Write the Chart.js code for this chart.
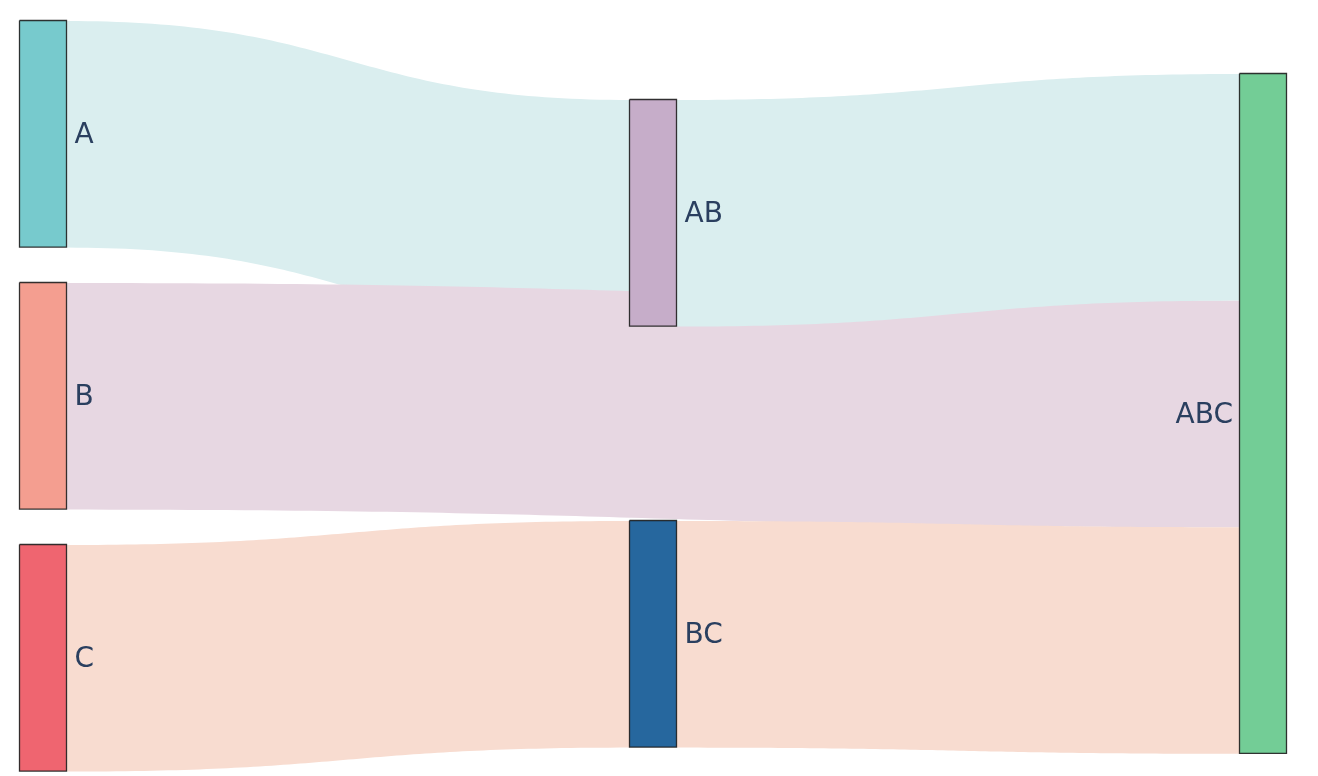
<!DOCTYPE html>
<html>
<head>
<meta charset="utf-8">
<script src="https://cdn.jsdelivr.net/npm/chart.js@4/dist/chart.umd.min.js"></script>
<style>
  html, body { margin: 0; padding: 0; background: #ffffff; }
  #wrap { width: 1318px; height: 776px; }
</style>
</head>
<body>
<div id="wrap"><canvas id="c" width="1318" height="776"></canvas></div>
<script>
// ---- data ----
const nodeLabels = ['A', 'B', 'C', 'AB', 'BC', 'ABC'];
const linkSource = [0, 1, 2, 3, 4];
const linkTarget = [3, 5, 4, 5, 5];
const linkValue  = [1, 1, 1, 1, 1];

// ---- styles ----
const nodeColors = ['#77cacd', '#f49e90', '#ef6570', '#c6adc9', '#26679e', '#73cd96'];
const linkColors = ['#daeeef', '#e7d7e2', '#f8dcd0', '#daeeef', '#f8dcd0'];
const nodeBorder = 'rgba(30,30,30,0.9)';
const labelColor = '#2a3f5f';

// ---- layout (pixel-like units on the hidden axes) ----
const columnX = [20, 630, 1240];
const nodeWidth = 47;
const unitSize = 226.6;
const nodeTop = [21, 283, 545, 100, 521, 74];

// depth of each node (longest path from a source)
const depth = nodeLabels.map(() => 0);
for (let k = 0; k < nodeLabels.length; k++) {
  linkSource.forEach((s, i) => { depth[linkTarget[i]] = Math.max(depth[linkTarget[i]], depth[s] + 1); });
}
const nodeValue = nodeLabels.map((_, n) => {
  let out = 0, inn = 0;
  linkSource.forEach((s, i) => { if (s === n) out += linkValue[i]; if (linkTarget[i] === n) inn += linkValue[i]; });
  return Math.max(out, inn);
});
const nodes = nodeLabels.map((lab, n) => ({
  x0: columnX[depth[n]], x1: columnX[depth[n]] + nodeWidth,
  y0: nodeTop[n], y1: nodeTop[n] + nodeValue[n] * unitSize
}));
const center = n => (nodes[n].y0 + nodes[n].y1) / 2;

// stack links on nodes
const linkGeo = linkSource.map(() => ({}));
nodeLabels.forEach((_, n) => {
  const outs = linkSource.map((s, i) => i).filter(i => linkSource[i] === n).sort((a, b) => center(linkTarget[a]) - center(linkTarget[b]));
  let y = nodes[n].y0;
  outs.forEach(i => { linkGeo[i].sy0 = y; y += linkValue[i] * unitSize; linkGeo[i].sy1 = y; });
  const ins = linkTarget.map((t, i) => i).filter(i => linkTarget[i] === n).sort((a, b) => center(linkSource[a]) - center(linkSource[b]));
  y = nodes[n].y0;
  ins.forEach(i => { linkGeo[i].ty0 = y; y += linkValue[i] * unitSize; linkGeo[i].ty1 = y; });
});

function bezier(xa, ya, xb, yb, steps) {
  const xm = (xa + xb) / 2, pts = [];
  for (let k = 0; k <= steps; k++) {
    const t = k / steps, u = 1 - t;
    const x = u*u*u*xa + 3*u*u*t*xm + 3*u*t*t*xm + t*t*t*xb;
    const y = u*u*u*ya + 3*u*u*t*ya + 3*u*t*t*yb + t*t*t*yb;
    pts.push({ x, y });
  }
  return pts;
}

const datasets = [];
linkSource.forEach((s, i) => {
  const t = linkTarget[i], g = linkGeo[i];
  const xa = nodes[s].x1, xb = nodes[t].x0;
  const top = bezier(xa, g.sy0, xb, g.ty0, 80);
  const bot = bezier(xa, g.sy1, xb, g.ty1, 80).reverse();
  datasets.push({
    data: top.concat(bot, [top[0]]),
    showLine: true, fill: 'shape', backgroundColor: linkColors[i],
    borderWidth: 0, borderColor: 'rgba(0,0,0,0)', pointRadius: 0, tension: 0,
    order: 100 - i
  });
});
nodes.forEach((nd, n) => {
  const a = nd.x0 - 0.5, b = nd.x1 - 0.5, c = nd.y0 - 0.5, d = nd.y1 - 0.5;
  datasets.push({
    data: [{x: a, y: c}, {x: b, y: c}, {x: b, y: d}, {x: a, y: d}, {x: a, y: c}],
    showLine: true, fill: 'shape', backgroundColor: nodeColors[n],
    borderColor: nodeBorder, borderWidth: 1.3, pointRadius: 0, tension: 0,
    order: 0
  });
});

const labelPlugin = {
  id: 'nodeLabels',
  afterDatasetsDraw(chart) {
    const ctx = chart.ctx, xs = chart.scales.x, ys = chart.scales.y;
    const maxDepth = Math.max(...depth);
    ctx.save();
    ctx.font = '28px "DejaVu Sans"';
    ctx.fillStyle = labelColor;
    ctx.textBaseline = 'middle';
    nodes.forEach((nd, n) => {
      const yc = ys.getPixelForValue((nd.y0 + nd.y1) / 2) + 1.5;
      if (depth[n] === maxDepth) {
        ctx.textAlign = 'right';
        ctx.fillText(nodeLabels[n], xs.getPixelForValue(nd.x0) - 7, yc);
      } else {
        ctx.textAlign = 'left';
        ctx.fillText(nodeLabels[n], xs.getPixelForValue(nd.x1) + 7.5, yc);
      }
    });
    ctx.restore();
  }
};

new Chart(document.getElementById('c'), {
  type: 'scatter',
  data: { datasets },
  options: {
    responsive: false,
    animation: false,
    layout: { padding: 0 },
    plugins: { legend: { display: false }, tooltip: { enabled: false } },
    scales: {
      x: { type: 'linear', min: 0, max: 1318, display: false },
      y: { type: 'linear', min: 0, max: 776, reverse: true, display: false }
    }
  },
  plugins: [labelPlugin]
});
</script>
</body>
</html>
